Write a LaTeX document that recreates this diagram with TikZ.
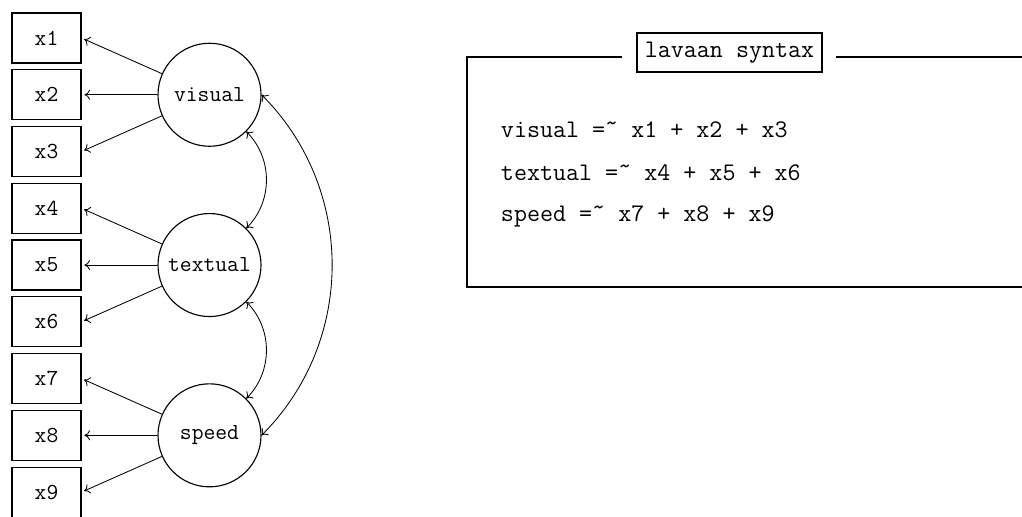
\documentclass[tikz,border=0pt]{standalone}
\usepackage{tikz}
\usetikzlibrary{positioning,arrows.meta,calc}
\tikzset{
  indicator/.style={draw, line width=0.8pt, minimum width=1.725cm, minimum height=1.25cm,
    font=\fontsize{16.3}{18}\selectfont\ttfamily},
  latent/.style={draw, circle, line width=0.8pt, minimum size=2.575cm, inner sep=0pt,
    font=\fontsize{16.3}{18}\selectfont\ttfamily},
  loading/.style={line width=0.6pt, -{To[length=4pt,width=7pt]}, shorten >=2pt},
  covar/.style={line width=0.6pt, {To[length=4pt,width=7pt]}-{To[length=4pt,width=7pt]}},
  syntaxline/.style={anchor=base west, font=\fontsize{18}{20}\selectfont\ttfamily},
  frame/.style={line width=0.8pt},
}
\newcommand{\hightilde}{{\char"02DC}}

\begin{document}
\begin{tikzpicture}
  \useasboundingbox (0,0) rectangle (25.55,-12.9);

  % observed variables
  \foreach \i in {1,...,9}
    \node[indicator] (x\i) at (1.1625,{-0.95-1.419*(\i-1)}) {x\i};

  % latent factors
  \node[latent] (visual) at ($(x2)+(4.075,0)$) {visual};
  \node[latent] (textual) at ($(x5)+(4.075,0)$) {textual};
  \node[latent] (speed) at ($(x8)+(4.075,0)$) {speed};

  \foreach \i in {1,2,3} \draw[loading] (visual) -- (x\i.east);
  \foreach \i in {4,5,6} \draw[loading] (textual) -- (x\i.east);
  \foreach \i in {7,8,9} \draw[loading] (speed) -- (x\i.east);

  \draw[covar] (visual.-45) to[bend left=45] (textual.45);
  \draw[covar] (textual.-45) to[bend left=45] (speed.45);
  \draw[covar] (visual.east) to[bend left=45] (speed.east);

  % model box
  \coordinate (boxtl) at (11.675,-1.425);
  \coordinate (boxbl) at (11.675,-7.175);
  \coordinate (boxbr) at (26,-7.175);
  \coordinate (boxtr) at (26,-1.425);
  \node[draw, frame, minimum width=4.625cm, minimum height=0.975cm,
    font=\fontsize{18}{20}\selectfont\ttfamily] (title) at (18.2375,-1.3125) {lavaan syntax};
  \draw[frame] ($(title.west |- boxtl)+(-0.35,0)$) -- (boxtl) -- (boxbl) -- (boxbr);
  \draw[frame] ($(title.east |- boxtl)+(0.33,0)$) -- (boxtr);

  \node[syntaxline] (line1) at (12.4,-3.435) {visual =\hightilde{} x1 + x2 + x3};
  \node[syntaxline] (line2) at (12.4,-4.5) {textual =\hightilde{} x4 + x5 + x6};
  \node[syntaxline] (line3) at (12.4,-5.54) {speed =\hightilde{} x7 + x8 + x9};
\end{tikzpicture}
\end{document}
